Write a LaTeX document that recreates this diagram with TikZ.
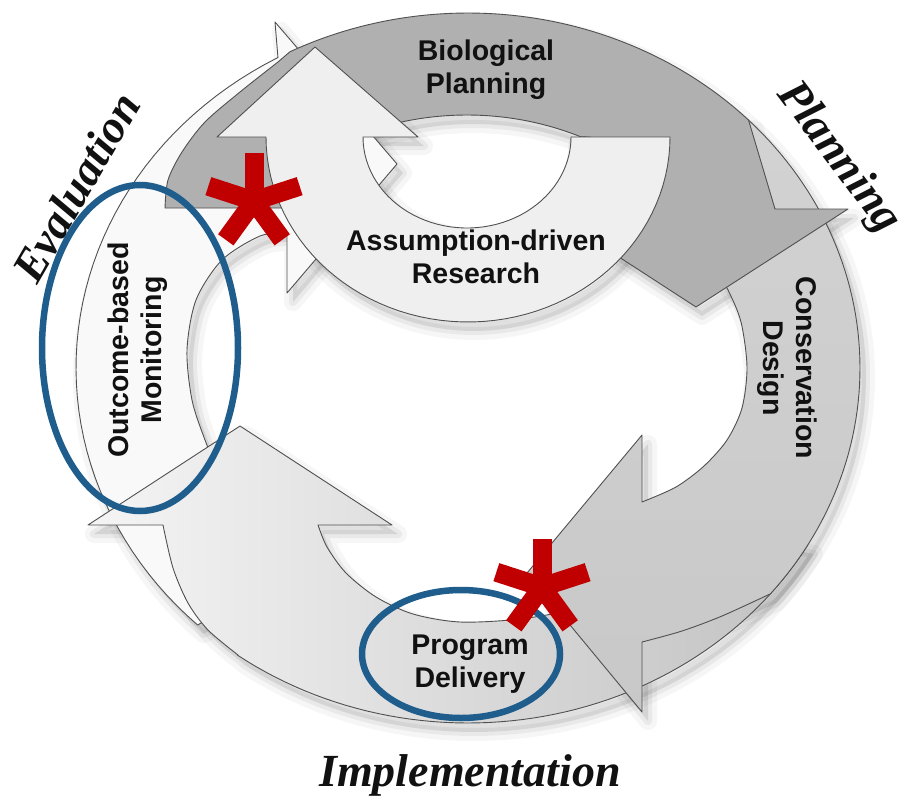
\documentclass[tikz,border=0pt]{standalone}
\usepackage{fontspec}
\setmainfont{Liberation Serif}
\setsansfont{Liberation Sans}
\usetikzlibrary{calc}
\definecolor{bandgray}{HTML}{B0B0B0}
\definecolor{consgray}{HTML}{9E9E9E}
\definecolor{lightring}{HTML}{EFEFEF}
\definecolor{edgegray}{HTML}{505050}
\definecolor{ovalblue}{HTML}{1F5E8C}
\definecolor{starred}{HTML}{C00000}
\definecolor{txt}{HTML}{111111}
\tikzset{
  shapeedge/.style={draw=edgegray, line width=0.9, line join=round},
  lbl/.style={font=\sffamily\bfseries\fontsize{28.5}{33}\selectfont, align=center, inner sep=0, text=txt},
  phase/.style={font=\rmfamily\bfseries\itshape\fontsize{46}{50}\selectfont, inner sep=0, text=txt},
  oval/.style={draw=ovalblue, line width=6.5},
  stararm/.style={draw=starred, line width=19},
  shadowA/.style={draw=black, fill=black, line width=18, line join=round, opacity=0.035},
  shadowB/.style={draw=black, fill=black, line width=8, line join=round, opacity=0.05},
}
% ---------- shape paths (reference pixel coordinates, y downward) ----------
\newcommand\EvalPath{plot[domain=133.6:241, samples=50, variable=\t] ({468+392*cos(\t)},{368+355*sin(\t)})
  -- (275,22) -- (397,164) -- (287,293) -- (287,233)
  -- plot[smooth] coordinates {(287,233) (260,236) (222,260) (196,300) (187,350) (192,400) (205,440) (225,490)}
  -- (300,560) -- cycle}
\newcommand\ProgPath{(88,525) -- (240,426) -- (392,525) -- (318,525)
  -- plot[smooth] coordinates {(318,525) (327,547) (346,573) (376,597) (413,614) (460,622) (520,619) (580,608) (640,588) (700,560) (730,530)}
  -- (808,545)
  -- plot[domain=29.9:126, samples=60, variable=\t] ({468+392*cos(\t)},{368+355*sin(\t)})
  -- plot[smooth] coordinates {(238,655) (208,630) (188,603) (173,568) (163,525)}
  -- cycle}
\newcommand\ConsPath{plot[domain=315.7:399.6, samples=60, variable=\t] ({468+392*cos(\t)},{368+355*sin(\t)})
  -- plot[smooth] coordinates {(770,594) (722,616) (682,631) (642,642)}
  -- (642,712) -- (527,573) -- (642,435) -- (642,502)
  -- plot[smooth] coordinates {(642,502) (676,487) (704,466) (727,440) (742,408) (747,367) (741,322) (728,290) (712,262)}
  -- (735,200) -- cycle}
\newcommand\BioPath{plot[smooth] coordinates {(165,208) (168,180) (182,152) (205,122) (240,92) (278,62)}
  -- plot[domain=243:315.7, samples=60, variable=\t] ({468+392*cos(\t)},{368+355*sin(\t)})
  -- (775,209) -- (848,209) -- (696,307) -- (545,209) -- (600,160) -- (590,137)
  -- plot[domain=294:246, samples=40, variable=\t] ({467+280*cos(\t)},{368+253*sin(\t)})
  -- (300,208) -- cycle}
\newcommand\SmallPath{(217,137) -- (315,47) -- (418,137) -- (363,137)
  -- plot[domain=180:0, samples=50, variable=\t] ({467+104*cos(\t)},{137+91*sin(\t)})
  -- (670,137)
  -- plot[domain=0:180, samples=60, variable=\t] ({468+202*cos(\t)},{137+185*sin(\t)})
  -- cycle}
\begin{document}
\begin{tikzpicture}[x=1pt,y=-1pt]
\useasboundingbox (0,0) rectangle (912,800);
\fill[white] (0,0) rectangle (912,800);

% soft shadows
\begin{scope}[shift={(6,9)}]
  \path[shadowA] \EvalPath;  \path[shadowB] \EvalPath;
  \path[shadowA] \ProgPath;  \path[shadowB] \ProgPath;
  \path[shadowA] \ConsPath;  \path[shadowB] \ConsPath;
  \path[shadowA] \BioPath;   \path[shadowB] \BioPath;
  \path[shadowA] \SmallPath; \path[shadowB] \SmallPath;
\end{scope}

% arrows of the cycle
\path[shapeedge, fill=gray!5] \EvalPath;
\path[shapeedge, left color=gray!8, right color=gray!48] \ProgPath;
\path[shapeedge, top color=gray!35, bottom color=gray!43] \ConsPath;
\path[shapeedge, fill=bandgray] \BioPath;
\path[shapeedge, fill=lightring] \SmallPath;

% labels
\node[lbl] (bio) at (486,70) {Biological\\Planning};
\node[lbl] (adr) at (476,257) {Assumption-driven\\Research};
\node[lbl, rotate=-90] (cd) at (787,368) {Conservation\\Design};
\node[lbl, rotate=90] (obm) at (138,350) {Outcome-based\\Monitoring};
\node[lbl] (pd) at (470,664) {Program\\Delivery};
\node[phase, rotate=-53] (plan) at (838,158) {Planning};
\node[phase, rotate=60] (eval) at (76,187) {Evaluation};
\node[phase] (impl) at (470,775) {Implementation};

% blue ovals
\draw[oval] (140,348) ellipse [x radius=98, y radius=163];
\draw[oval] (461,654) ellipse [x radius=99, y radius=64];

% red asterisks
\foreach \c in {(254,201), (542,587)} {
  \foreach \a in {-90,-18,-162,54,126} {
    \draw[stararm] \c -- ++(\a:48);
  }
}
\end{tikzpicture}
\end{document}
